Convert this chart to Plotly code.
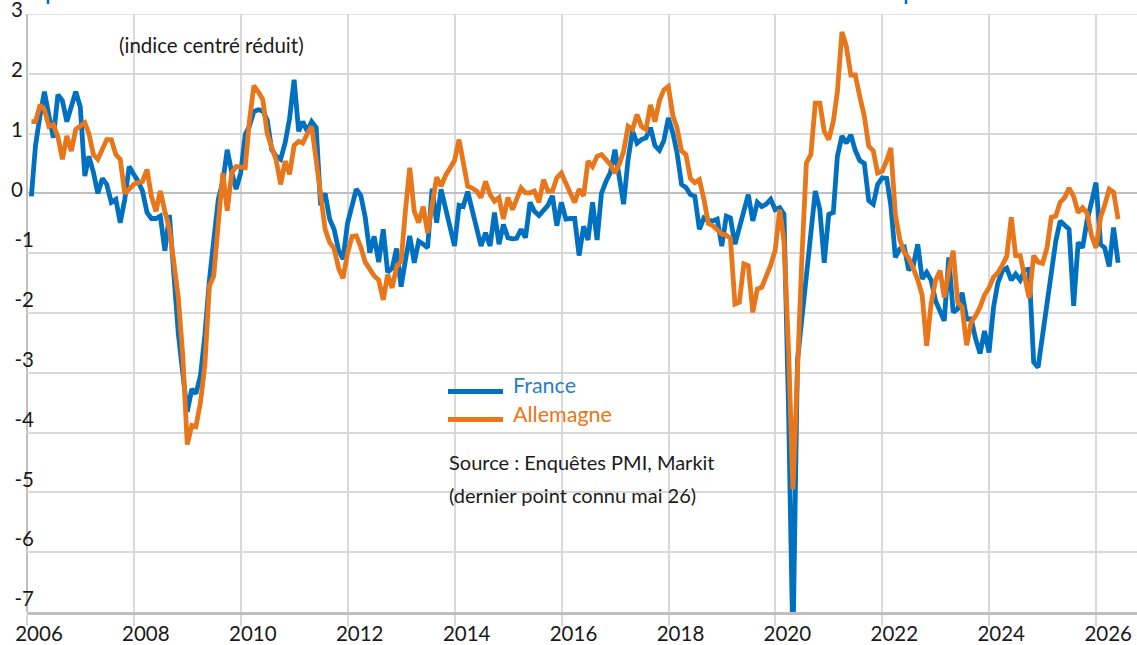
import pandas as pd
import plotly.graph_objects as go

# ---------------- data (monthly, Jan 2006 -> May 2026) ----------------
france = [
    # 2006
    -0.05, 0.80, 1.30, 1.70, 1.30, 0.93, 1.65, 1.55, 1.20, 1.45, 1.70, 1.45,
    # 2007
    0.29, 0.62, 0.35, 0.00, 0.25, 0.15, -0.15, -0.10, -0.49, -0.10, 0.45, 0.32,
    # 2008
    0.20, 0.04, -0.32, -0.42, -0.42, -0.38, -0.96, -0.36, -1.47, -2.35, -3.00, -3.65,
    # 2009
    -3.27, -3.35, -3.05, -2.38, -1.45, -0.75, -0.10, 0.20, 0.73, 0.35, 0.07, 0.34,
    # 2010
    0.98, 1.12, 1.37, 1.40, 1.38, 1.23, 0.73, 0.62, 0.57, 0.85, 1.25, 1.90,
    # 2011
    1.04, 1.20, 1.04, 1.20, 1.10, -0.20, 0.00, -0.43, -0.60, -0.95, -1.10, -0.50,
    # 2012
    -0.20, 0.07, -0.04, -0.40, -0.99, -0.72, -1.15, -0.60, -1.32, -1.25, -0.92, -1.56,
    # 2013
    -1.10, -0.71, -1.16, -0.80, -0.85, -0.91, 0.08, -0.49, 0.07, -0.25, -0.55, -0.88,
    # 2014
    -0.20, -0.22, 0.03, -0.25, -0.55, -0.88, -0.66, -0.88, -0.32, -0.85, -0.52, -0.74,
    # 2015
    -0.76, -0.75, -0.60, -0.74, -0.15, -0.30, -0.37, -0.27, -0.20, -0.04, -0.54, -0.15,
    # 2016
    -0.43, -0.42, -0.42, -1.04, -0.55, -0.78, -0.15, -0.78, 0.00, 0.20, 0.35, 0.73,
    # 2017
    0.29, -0.18, 0.57, 1.04, 0.84, 0.90, 0.93, 1.10, 0.80, 0.72, 0.88, 1.26,
    # 2018
    1.01, 0.68, 0.15, 0.10, -0.02, -0.05, -0.60, -0.41, -0.45, -0.46, -0.43, -0.88,
    # 2019
    -0.38, -0.41, -0.85, -0.55, -0.30, -0.02, -0.46, -0.15, -0.22, -0.18, -0.10, -0.27,
    # 2020
    -0.24, -0.35, -3.60, -7.60, -2.80, -2.10, -1.35, -0.60, 0.04, -0.27, -1.16, -0.35,
    # 2021
    -0.32, 0.62, 0.96, 0.84, 0.98, 0.72, 0.55, 0.50, -0.12, -0.18, 0.15, 0.26,
    # 2022
    0.25, -0.20, -1.07, -0.93, -0.90, -1.28, -1.21, -0.85, -1.43, -1.32, -1.45, -1.80,
    # 2023
    -1.95, -2.13, -1.07, -1.99, -1.93, -1.66, -2.10, -2.10, -2.43, -2.68, -2.30, -2.66,
    # 2024
    -1.90, -1.50, -1.30, -1.25, -1.45, -1.35, -1.45, -1.28, -1.27, -2.82, -2.91, -2.40,
    # 2025
    -1.85, -1.38, -0.80, -0.46, -0.52, -0.60, -1.88, -0.82, -0.91, -0.45, -0.15, 0.18,
    # 2026
    -0.85, -0.91, -1.22, -0.57, -1.16,
]

allemagne = [
    # 2006
    1.20, 1.20, 1.48, 1.40, 1.12, 1.15, 0.95, 0.57, 0.96, 0.71, 1.07, 1.12,
    # 2007
    1.18, 1.00, 0.65, 0.57, 0.75, 0.90, 0.90, 0.65, 0.57, 0.00, 0.07, 0.15,
    # 2008
    0.18, 0.20, 0.40, -0.05, -0.30, 0.04, -0.30, -0.60, -1.15, -1.75, -2.70, -4.20,
    # 2009
    -3.88, -3.90, -3.50, -2.88, -1.55, -1.38, -0.50, 0.34, -0.29, 0.35, 0.45, 0.43,
    # 2010
    0.43, 1.20, 1.80, 1.70, 1.57, 1.00, 0.75, 0.55, 0.15, 0.54, 0.32, 0.80,
    # 2011
    0.87, 0.84, 1.00, 1.12, 0.55, 0.00, -0.60, -0.82, -0.92, -1.25, -1.42, -1.00,
    # 2012
    -0.72, -0.71, -0.90, -1.15, -1.27, -1.38, -1.45, -1.78, -1.36, -1.58, -1.23, -1.13,
    # 2013
    -0.25, 0.43, -0.30, -0.49, -0.22, -0.66, -0.20, 0.27, 0.12, 0.30, 0.42, 0.55,
    # 2014
    0.90, 0.50, 0.12, 0.09, 0.04, -0.07, 0.20, -0.02, -0.13, -0.07, -0.43, -0.07,
    # 2015
    -0.27, -0.10, 0.09, 0.01, 0.01, 0.04, -0.15, 0.23, 0.04, 0.04, 0.26, 0.34,
    # 2016
    0.15, 0.01, -0.15, 0.07, -0.04, 0.54, 0.45, 0.62, 0.65, 0.57, 0.48, 0.34,
    # 2017
    0.50, 0.70, 1.12, 1.07, 1.32, 1.12, 1.07, 1.48, 1.20, 1.55, 1.73, 1.79,
    # 2018
    1.30, 1.10, 0.71, 0.65, 0.25, 0.18, 0.23, -0.10, -0.50, -0.54, -0.60, -0.68,
    # 2019
    -0.70, -0.75, -1.85, -1.82, -1.18, -1.21, -1.99, -1.60, -1.57, -1.40, -1.20, -0.95,
    # 2020
    -0.27, -0.80, -2.60, -4.95, -2.80, -1.10, 0.51, 0.65, 1.51, 1.51, 1.04, 0.90,
    # 2021
    1.20, 1.70, 2.70, 2.46, 1.98, 1.98, 1.62, 1.29, 0.79, 0.71, 0.34, 0.37,
    # 2022
    0.55, 0.76, -0.35, -0.77, -0.99, -1.08, -1.25, -1.45, -1.70, -2.55, -1.85, -1.45,
    # 2023
    -1.29, -1.74, -1.30, -0.96, -1.82, -1.90, -2.54, -2.15, -2.05, -1.90, -1.70, -1.58,
    # 2024
    -1.40, -1.33, -1.20, -1.05, -0.40, -1.04, -1.04, -1.40, -1.75, -1.04, -1.15, -1.17,
    # 2025
    -0.90, -0.40, -0.38, -0.15, -0.07, 0.09, -0.05, -0.32, -0.24, -0.33, -0.70, -0.91,
    # 2026
    -0.40, -0.20, 0.07, 0.02, -0.43,
]

dates = pd.date_range("2006-01-31", periods=len(france), freq="ME")

series_names = ["France", "Allemagne"]
series_colors = ["#0070C0", "#E8761A"]
legend_text_colors = ["#1F7FCC", "#E8761A"]

y_pos_ticks = [0, 1, 2, 3]
y_neg_ticks = [-7, -6, -5, -4, -3, -2, -1]

subtitle = "(indice centré réduit)"
source_lines = ["Source : Enquêtes PMI, Markit", "(dernier point connu mai 26)"]

# ---------------- layout geometry ----------------
W, H = 1137, 645
L, R, T, B = 27, 0, 14, 33
PW, PH = W - L - R, H - T - B
Y_RANGE = [-7, 3]


def px(x):
    return (x - L) / PW


def py(y):
    return (H - B - y) / PH


FONT = "Lato, 'Open Sans', sans-serif"
TXT = "#1a1a1a"
GRID = "#D9D9D9"
AXIS = "#BFBFBF"

fig = go.Figure()
# France on the primary y axis, Allemagne on the overlaying one (same range)
for name, vals, col, yax in zip(series_names, [france, allemagne], series_colors, ["y", "y2"]):
    fig.add_trace(go.Scatter(
        x=dates, y=vals, name=name, mode="lines", yaxis=yax,
        line=dict(color=col, width=4.8), showlegend=False,
    ))

shapes = []
# top gridline (value 3) sits on the plot edge, drawn explicitly so it is not dropped
shapes.append(dict(type="line", xref="paper", yref="y", layer="between",
                   x0=0, x1=1, y0=Y_RANGE[1], y1=Y_RANGE[1],
                   line=dict(color=GRID, width=1.5)))
# y-axis line
shapes.append(dict(type="line", xref="paper", yref="y", layer="between",
                   x0=0, x1=0, y0=Y_RANGE[0], y1=Y_RANGE[1],
                   line=dict(color=AXIS, width=2)))
# white boxes behind legend / source text (hide gridlines)
shapes.append(dict(type="rect", xref="paper", yref="paper", layer="between",
                   x0=px(438), x1=px(690), y0=py(440), y1=py(375),
                   fillcolor="white", line=dict(width=0)))
shapes.append(dict(type="rect", xref="paper", yref="paper", layer="between",
                   x0=px(438), x1=px(737), y0=py(517), y1=py(440),
                   fillcolor="white", line=dict(width=0)))
# manual legend samples
for col, yy in zip(series_colors, [391.5, 419.5]):
    shapes.append(dict(type="line", xref="paper", yref="paper",
                       x0=px(448), x1=px(503), y0=py(yy), y1=py(yy),
                       line=dict(color=col, width=5)))
# fragments of the cropped title above the chart
for xx in [48, 906]:
    shapes.append(dict(type="line", xref="paper", yref="paper",
                       x0=px(xx), x1=px(xx), y0=py(0), y1=py(4),
                       line=dict(color="#0070C0", width=2.5)))

annotations = []
for name, tcol, yy in zip(series_names, legend_text_colors, [385, 414]):
    annotations.append(dict(text=name, xref="paper", yref="paper",
                            x=px(511), y=py(yy), xanchor="left", yanchor="middle",
                            showarrow=False, font=dict(family=FONT, size=21.5, color=tcol)))
annotations.append(dict(text=subtitle, xref="paper", yref="paper",
                        x=px(211), y=py(45), xanchor="center", yanchor="middle",
                        showarrow=False, font=dict(family=FONT, size=20.5, color=TXT)))
for line_txt, yy in zip(source_lines, [462, 495]):
    annotations.append(dict(text=line_txt, xref="paper", yref="paper",
                            x=px(447), y=py(yy), xanchor="left", yanchor="middle",
                            showarrow=False, font=dict(family=FONT, size=20, color=TXT)))

tickfont = dict(family=FONT, size=20.5, color=TXT)

fig.update_layout(
    width=W, height=H,
    margin=dict(l=L, r=R, t=T, b=B, pad=0, autoexpand=False),
    paper_bgcolor="white", plot_bgcolor="white",
    font=dict(family=FONT, color=TXT),
    shapes=shapes, annotations=annotations,
    xaxis=dict(
        type="date", range=["2006-01-01", "2026-10-07"], automargin=False,
        tick0="2006-01-01", dtick="M24", tickformat="%Y",
        showgrid=True, gridcolor=GRID, gridwidth=1.5,
        showline=True, linecolor=AXIS, linewidth=2.5,
        ticks="outside", ticklen=11, tickwidth=1.5, tickcolor=GRID,
        tickfont=tickfont, ticklabeloverflow="allow",
        ticklabelshift=12, ticklabelstandoff=-9,
        zeroline=False, fixedrange=True,
    ),
    yaxis=dict(
        range=Y_RANGE, automargin=False, tickmode="array", tickvals=y_pos_ticks,
        ticktext=[str(v) for v in y_pos_ticks],
        showgrid=True, gridcolor=GRID, gridwidth=1.5,
        zeroline=True, zerolinecolor=AXIS, zerolinewidth=2,
        showline=False, ticks="", ticklabeloverflow="allow",
        ticklabelposition="outside", ticklabelstandoff=3, ticklabelshift=-4,
        tickfont=tickfont, fixedrange=True,
    ),
    yaxis2=dict(
        range=Y_RANGE, automargin=False, overlaying="y", side="left",
        tickmode="array", tickvals=y_neg_ticks,
        ticktext=[str(v) for v in y_neg_ticks],
        showgrid=True, gridcolor=GRID, gridwidth=1.5, zeroline=False,
        showline=False, ticks="", ticklabeloverflow="allow",
        ticklabelposition="outside", ticklabelstandoff=-8, ticklabelshift=-13,
        tickfont=tickfont, fixedrange=True,
    ),
)

fig.write_html(
    "out.html",
    config={"displayModeBar": False},
    post_script="document.body.style.margin='0';document.body.style.overflow='hidden';",
)
